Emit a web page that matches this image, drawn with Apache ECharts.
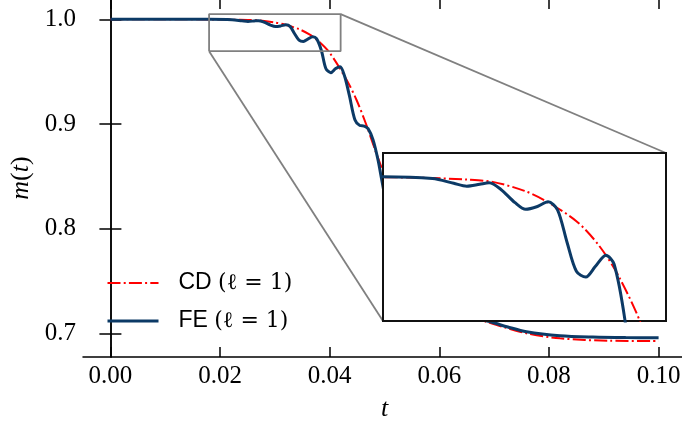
<!DOCTYPE html>
<html>
<head>
<meta charset="utf-8">
<script src="https://cdn.jsdelivr.net/npm/echarts@6/dist/echarts.min.js"></script>
<style>html,body{margin:0;padding:0;background:#fff}#main{width:682px;height:423px}</style>
</head>
<body>
<div id="main"></div>
<script>
// CD curve (red dash-dot)
var tCD = [0, 0.010, 0.018, 0.0222, 0.0250, 0.0273, 0.0300, 0.0317, 0.0344, 0.0363, 0.0380, 0.0400, 0.0431, 0.0449, 0.0467, 0.0483, 0.0495, 0.0510, 0.0530, 0.0550, 0.0570, 0.0590, 0.0610, 0.0635, 0.0660, 0.0689, 0.0720, 0.0759, 0.0820, 0.0911, 0.1000];
var mCD = [1.0, 1.0, 0.9999, 0.9997, 0.9994, 0.9989, 0.9970, 0.9950, 0.9906, 0.9855, 0.9789, 0.9680, 0.9420, 0.9229, 0.8990, 0.8750, 0.8577, 0.8340, 0.8000, 0.7700, 0.7500, 0.7370, 0.7280, 0.7210, 0.7155, 0.7105, 0.7055, 0.7000, 0.6952, 0.6929, 0.6927];
// FE curve (blue)
var tFE = [0, 0.0100, 0.0180, 0.0222, 0.0240, 0.0251, 0.0262, 0.0270, 0.0280, 0.0292, 0.0301, 0.0311, 0.0320, 0.0328, 0.0336, 0.0344, 0.0352, 0.0360, 0.0369, 0.0376, 0.0385, 0.0393, 0.0402, 0.0411, 0.0419, 0.0427, 0.0436, 0.0446, 0.0455, 0.0463, 0.0470, 0.0479, 0.0488, 0.0495, 0.0503, 0.0512, 0.0520, 0.0528, 0.0537, 0.0547, 0.0558, 0.0570, 0.0583, 0.0597, 0.0612, 0.0630, 0.0650, 0.0672, 0.0696, 0.0725, 0.0759, 0.0820, 0.0880, 0.0940, 0.1000];
var mFE = [1.0, 1.0, 1.0, 0.9996, 0.9986, 0.9980, 0.9984, 0.9987, 0.9973, 0.9945, 0.9931, 0.9937, 0.9947, 0.9930, 0.9862, 0.9800, 0.9788, 0.9810, 0.9834, 0.9815, 0.9700, 0.9530, 0.9490, 0.9530, 0.9547, 0.9460, 0.9270, 0.9040, 0.8985, 0.8980, 0.8955, 0.8850, 0.8660, 0.8465, 0.8250, 0.8080, 0.8000, 0.7970, 0.7900, 0.7750, 0.7600, 0.7480, 0.7400, 0.7330, 0.7270, 0.7220, 0.7175, 0.7135, 0.7105, 0.7060, 0.7015, 0.6977, 0.6964, 0.6959, 0.6958];

var xTicks = [0, 0.02, 0.04, 0.06, 0.08, 0.10];
var yTicks = [0.7, 0.8, 0.9, 1.0];
// zoomed window shown in the inset
var zoomX = [0.018, 0.042];
var zoomY = [0.9695, 1.005];

function pairs(xs, ys) {
    return xs.map(function (x, i) { return [x, ys[i]]; });
}
var cdData = pairs(tCD, mCD);
var feData = pairs(tFE, mFE);
var boxData = [[zoomX[0], zoomY[0]], [zoomX[1], zoomY[0]], [zoomX[1], zoomY[1]], [zoomX[0], zoomY[1]], [zoomX[0], zoomY[0]]];

var RED = '#ff0000', BLUE = '#0c3a66';
var serif = 'Liberation Serif';
var tickFont = { fontFamily: serif, fontSize: 25, color: '#000' };

var chart = echarts.init(document.getElementById('main'));
var option = {
    animation: false,
    backgroundColor: '#fff',
    grid: [
        { left: 83, top: -1, width: 603, height: 358, outerBoundsMode: 'none' },
        { left: 383, top: 153, width: 283, height: 168, show: true, z: 5, outerBoundsMode: 'none',
          backgroundColor: '#fff', borderColor: '#111', borderWidth: 2 }
    ],
    xAxis: [
        { type: 'value', gridIndex: 0, min: -0.005, max: 0.105, position: 'bottom',
          name: '{i|t}', nameLocation: 'middle', nameGap: 39,
          nameTextStyle: { rich: { i: { fontFamily: serif, fontStyle: 'italic', fontSize: 26, color: '#000' } } },
          axisLine: { lineStyle: { color: '#000', width: 1.5 } },
          axisTick: { inside: true, length: 10, customValues: xTicks, lineStyle: { color: '#000', width: 1.5 } },
          axisLabel: Object.assign({ margin: 7, customValues: xTicks, formatter: function (v) { return v.toFixed(2); } }, tickFont),
          splitLine: { show: false } },
        { type: 'value', gridIndex: 1, min: zoomX[0], max: zoomX[1], show: false },
        { type: 'value', gridIndex: 0, min: -0.005, max: 0.105, position: 'top',
          axisLine: { lineStyle: { color: '#000', width: 1.5 } },
          axisTick: { inside: true, length: 10, customValues: xTicks, lineStyle: { color: '#000', width: 1.5 } },
          axisLabel: { show: false }, splitLine: { show: false } }
    ],
    yAxis: [
        { type: 'value', gridIndex: 0, min: 0.67736, max: 1.01939, position: 'left',
          name: '{i|m}{r|(}{i|t}{r|)}', nameLocation: 'middle', nameGap: 46, nameRotate: 90,
          nameTextStyle: { rich: {
              i: { fontFamily: serif, fontStyle: 'italic', fontSize: 26, color: '#000' },
              r: { fontFamily: serif, fontSize: 26, color: '#000' } } },
          axisLine: { lineStyle: { color: '#000', width: 1.5 } },
          axisTick: { inside: true, length: 11, customValues: yTicks, lineStyle: { color: '#000', width: 1.5 } },
          axisLabel: Object.assign({ margin: 7, customValues: yTicks, formatter: function (v) { return v.toFixed(1); } }, tickFont),
          splitLine: { show: false } },
        { type: 'value', gridIndex: 1, min: zoomY[0], max: zoomY[1], show: false },
        { type: 'value', gridIndex: 0, min: 0.67736, max: 1.01939, position: 'right',
          axisLine: { lineStyle: { color: '#000', width: 1.5 } },
          axisTick: { inside: true, length: 11, customValues: yTicks, lineStyle: { color: '#000', width: 1.5 } },
          axisLabel: { show: false }, splitLine: { show: false } }
    ],
    legend: {
        data: ['CD', 'FE'], orient: 'vertical', left: 106, top: 270, padding: 0,
        itemWidth: 51, itemHeight: 14, itemGap: 12,
        itemStyle: { opacity: 0 },
        lineStyle: { width: 'inherit', type: 'inherit' },
        formatter: function (n) { return '{s|' + n + ' }{m|(ℓ = 1)}'; },
        textStyle: { padding: [0, 0, 0, 15], lineHeight: 26, rich: {
            s: { fontFamily: 'Liberation Sans', fontSize: 23, color: '#000', lineHeight: 26 },
            m: { fontFamily: 'DejaVu Serif', fontSize: 22, color: '#000', lineHeight: 26 } } }
    },
    series: [
        { name: 'box', type: 'line', xAxisIndex: 0, yAxisIndex: 0, data: boxData, symbol: 'none',
          lineStyle: { color: '#808080', width: 1.8 }, itemStyle: { color: '#808080' }, z: 3, silent: true },
        { name: 'CD', type: 'line', xAxisIndex: 0, yAxisIndex: 0, data: cdData, symbol: 'none', smooth: 0.3,
          lineStyle: { color: RED, width: 2, type: [13, 3.2, 2, 3.2] }, itemStyle: { color: RED }, z: 2 },
        { name: 'FE', type: 'line', xAxisIndex: 0, yAxisIndex: 0, data: feData, symbol: 'none', smooth: 0.3,
          lineStyle: { color: BLUE, width: 3 }, itemStyle: { color: BLUE }, z: 2 },
        { name: 'CD', type: 'line', xAxisIndex: 1, yAxisIndex: 1, data: cdData, symbol: 'none', smooth: 0.3,
          lineStyle: { color: RED, width: 2, type: [13, 3.2, 2, 3.2] }, itemStyle: { color: RED }, z: 6 },
        { name: 'FE', type: 'line', xAxisIndex: 1, yAxisIndex: 1, data: feData, symbol: 'none', smooth: 0.3,
          lineStyle: { color: BLUE, width: 3 }, itemStyle: { color: BLUE }, z: 6 }
    ]
};
chart.setOption(option);

// connector lines from the zoom box to the inset corners
var a = chart.convertToPixel({ gridIndex: 0 }, [zoomX[1], zoomY[1]]);
var b = chart.convertToPixel({ gridIndex: 1 }, [zoomX[1], zoomY[1]]);
var c = chart.convertToPixel({ gridIndex: 0 }, [zoomX[0], zoomY[0]]);
var d = chart.convertToPixel({ gridIndex: 1 }, [zoomX[0], zoomY[0]]);
chart.setOption({
    graphic: [
        { type: 'line', z: 1, shape: { x1: a[0], y1: a[1], x2: b[0], y2: b[1] }, style: { stroke: '#808080', lineWidth: 1.8 } },
        { type: 'line', z: 1, shape: { x1: c[0], y1: c[1], x2: d[0], y2: d[1] }, style: { stroke: '#808080', lineWidth: 1.8 } }
    ]
});
</script>
</body>
</html>
